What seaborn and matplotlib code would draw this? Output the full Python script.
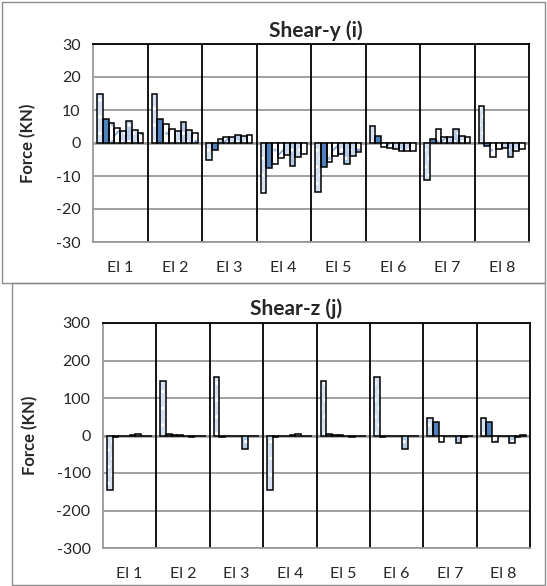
import numpy as np
import pandas as pd
import matplotlib
matplotlib.use("Agg")
import matplotlib.pyplot as plt
import seaborn as sns
from matplotlib.patches import Rectangle

# ---------------- data ----------------
elements = ["El 1", "El 2", "El 3", "El 4", "El 5", "El 6", "El 7", "El 8"]
series = ["S1", "S2", "S3", "S4", "S5", "S6", "S7", "S8"]

# Shear-y (i): one list per element, 8 bars each
shear_y_el1 = [15.0, 7.4, 6.0, 4.5, 3.6, 6.7, 4.0, 3.0]
shear_y_el2 = [15.0, 7.4, 5.9, 4.3, 3.5, 6.4, 3.8, 3.0]
shear_y_el3 = [-5.2, -2.2, 1.3, 1.7, 1.8, 2.4, 2.0, 2.3]
shear_y_el4 = [-15.0, -7.5, -6.5, -4.4, -3.7, -7.0, -4.2, -3.2]
shear_y_el5 = [-14.8, -7.3, -5.8, -4.0, -3.2, -6.3, -3.8, -2.8]
shear_y_el6 = [5.2, 2.2, -1.3, -1.5, -1.8, -2.5, -2.3, -2.5]
shear_y_el7 = [-11.3, 1.2, 4.1, 1.9, 1.7, 4.1, 2.2, 1.7]
shear_y_el8 = [11.3, -1.0, -4.2, -1.8, -1.6, -4.2, -2.5, -1.8]

# Shear-z (j)
shear_z_el1 = [-145, -3, 0, 0, 1, 3, 0, -1]
shear_z_el2 = [145, 3, 2, 1, 0, -3, -1, 0]
shear_z_el3 = [156, -3, 0, 0, 0, -35, 0, 0]
shear_z_el4 = [-145, -3, 0, 0, 1, 3, 0, -1]
shear_z_el5 = [145, 3, 2, 1, 0, -4, -1, 0]
shear_z_el6 = [156, -3, 0, 0, 0, -35, 0, 0]
shear_z_el7 = [48, 35, -18, -1, 0, -20, -3, -1]
shear_z_el8 = [48, 35, -18, -1, 0, -20, -3, 1]

shear_y = [shear_y_el1, shear_y_el2, shear_y_el3, shear_y_el4,
           shear_y_el5, shear_y_el6, shear_y_el7, shear_y_el8]
shear_z = [shear_z_el1, shear_z_el2, shear_z_el3, shear_z_el4,
           shear_z_el5, shear_z_el6, shear_z_el7, shear_z_el8]

yticks_top = [-30, -20, -10, 0, 10, 20, 30]
yticks_bot = [-300, -200, -100, 0, 100, 200, 300]


def to_frame(values):
    rows = []
    for e, vals in zip(elements, values):
        for s, v in zip(series, vals):
            rows.append({"element": e, "series": s, "value": v})
    return pd.DataFrame(rows)


# ---------------- style ----------------
sns.set_style("white")
plt.rcParams["font.family"] = ["Lato", "DejaVu Sans"]
plt.rcParams["hatch.linewidth"] = 1.2

BLUE = "#4F81BD"
fill_colors = ["#D5E2F3", BLUE, "white", "white", "#C9D8EE", "#B4CAE8", "#C9D8EE", "white"]
hatch_styles = ["..", None, "..", "//", "..", "..", "..", ".."]
hatch_colors = ["white", BLUE, "#A9C1E4", "#7EA3D6", "white", "white", "white", "#7EA3D6"]
GRID = "#999999"

W, H = 547, 586
fig = plt.figure(figsize=(W / 100, H / 100), dpi=100)


def fx(px):
    return px / W


def fy(py):
    return 1 - py / H


def draw_panel(rect, values, yticks, title, title_xy, ylab_xy):
    left, top, right, bottom = rect
    ax = fig.add_axes([fx(left), fy(bottom), fx(right - left), fy(top) - fy(bottom)])
    df = to_frame(values)
    # filled / hatched bars
    sns.barplot(data=df, x="element", y="value", hue="series", order=elements,
                hue_order=series, palette=fill_colors, width=0.85, errorbar=None,
                linewidth=0, legend=False, saturation=1, ax=ax, zorder=2)
    for j, cont in enumerate(ax.containers):
        for bar in cont:
            if hatch_styles[j]:
                bar.set_hatch(hatch_styles[j])
            bar.set_edgecolor(hatch_colors[j])
            bar.set_linewidth(0)
    # black outlines
    sns.barplot(data=df, x="element", y="value", hue="series", order=elements,
                hue_order=series, palette=["black"] * len(series), width=0.85,
                errorbar=None, fill=False, linewidth=1.1, legend=False, ax=ax,
                zorder=3)
    lim = yticks[-1]
    ax.set_ylim(-lim, lim)
    ax.set_xlim(-0.5, len(elements) - 0.5)
    ax.set_yticks(yticks)
    ax.set_yticklabels([str(t) for t in yticks], fontsize=11.5)
    ax.set_xticks(range(len(elements)))
    ax.set_xticklabels(elements, fontsize=11.5)
    ax.tick_params(axis="x", length=0, pad=14)
    ax.tick_params(axis="y", length=5, width=1, color=GRID, direction="out", pad=4)
    ax.set_xlabel("")
    ax.set_ylabel("")
    for t in yticks:
        ax.axhline(t, color=GRID, lw=1.3, zorder=0.5)
    ax.axhline(0, color=GRID, lw=1.8, zorder=1)
    for k in range(len(elements) - 1):
        ax.axvline(k + 0.5, color="black", lw=1.3, zorder=1)
    ax.spines["left"].set_color(GRID)
    ax.spines["left"].set_linewidth(1.3)
    ax.spines["bottom"].set_color(GRID)
    ax.spines["bottom"].set_linewidth(1.3)
    for s in ("top", "right"):
        ax.spines[s].set_color("black")
        ax.spines[s].set_linewidth(1.3)
    fig.text(fx(title_xy[0]), fy(title_xy[1]), title, ha="center", va="center",
             fontsize=15, fontweight="bold")
    fig.text(fx(ylab_xy[0]), fy(ylab_xy[1]), "Force (KN)", ha="center", va="center",
             rotation=90, fontsize=12, fontweight="bold")
    return ax


draw_panel((93, 44, 529, 242), shear_y, yticks_top, "Shear-y (i)", (316, 31), (28, 143))
draw_panel((103, 323, 530, 548), shear_z, yticks_bot, "Shear-z (j)", (296, 309), (30, 435))

# panel frames
fig.add_artist(Rectangle((fx(2), fy(283)), fx(543), fy(2) - fy(283), transform=fig.transFigure,
                         fill=False, ec="#8C8C8C", lw=1.0))
fig.add_artist(Rectangle((fx(12), fy(585)), fx(533), fy(283) - fy(585), transform=fig.transFigure,
                         fill=False, ec="#8C8C8C", lw=1.0))

fig.savefig("out.png", dpi=100)
